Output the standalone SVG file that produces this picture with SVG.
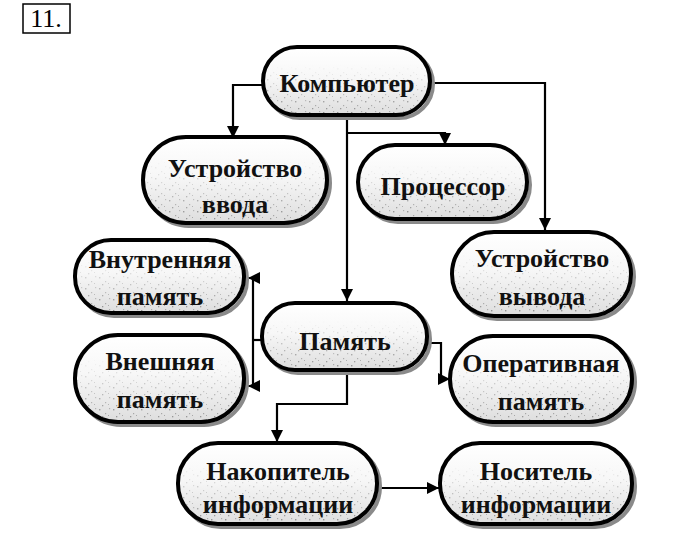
<svg xmlns="http://www.w3.org/2000/svg" width="700" height="542" viewBox="0 0 700 542">
<defs>
<linearGradient id="fillg" x1="0" y1="0" x2="0" y2="1">
<stop offset="0" stop-color="#ffffff"/>
<stop offset="0.45" stop-color="#f7f7f7"/>
<stop offset="1" stop-color="#dedede"/>
</linearGradient>
<pattern id="speck" width="14" height="11" patternUnits="userSpaceOnUse">
<rect x="1" y="2" width="1.4" height="1.4" fill="#8f8f8f"/>
<rect x="7" y="6" width="1.2" height="1.2" fill="#a0a0a0"/>
<rect x="11" y="1" width="1.2" height="1.2" fill="#a8a8a8"/>
<rect x="4" y="9" width="1.3" height="1.3" fill="#929292"/>
<rect x="10" y="8" width="1" height="1" fill="#a4a4a4"/>
</pattern>
<linearGradient id="mg" x1="0" y1="0" x2="0" y2="1">
<stop offset="0.25" stop-color="#000"/>
<stop offset="1" stop-color="#fff"/>
</linearGradient>
<mask id="m" maskContentUnits="objectBoundingBox">
<rect x="0" y="0" width="1" height="1" fill="url(#mg)"/>
</mask>
<marker id="arr" viewBox="0 0 10 10" refX="10" refY="5" markerWidth="5.5" markerHeight="5.5" orient="auto" markerUnits="strokeWidth">
<path d="M0,0 L10,5 L0,10 z" fill="#000"/>
</marker>
</defs>
<style>
.shadow{fill:none;stroke:#8a8a8a;stroke-width:4}
.box{fill:url(#fillg);stroke:#000;stroke-width:4}
.sp{fill:url(#speck);stroke:none;mask:url(#m)}
.t{font-family:'Liberation Serif','Times New Roman',serif;font-weight:bold;font-size:26px;fill:#111;text-anchor:middle}
.c{fill:none;stroke:#000;stroke-width:2.2;marker-end:url(#arr)}
.cn{fill:none;stroke:#000;stroke-width:2.2}
</style>
<rect width="700" height="542" fill="#fff"/>
<g id="label">
<rect x="23" y="4" width="47" height="29" fill="none" stroke="#000" stroke-width="1.5"/>
<text x="46" y="27" font-family="Liberation Serif, serif" font-size="26" text-anchor="middle" fill="#000">11.</text>
</g>
<g id="connectors">
<path class="c" d="M263,85 H233 V138"/>
<path class="c" d="M432,83 H545 V230"/>
<path class="c" d="M347,118 V301"/>
<path class="c" d="M347,133 H445 V145"/>
<path class="cn" d="M262,340 H253"/>
<path class="c" d="M253,340 V278 H248"/>
<path class="c" d="M253,340 V386 H248"/>
<path class="c" d="M430,343 H441 V379 H450"/>
<path class="c" d="M347,372 V404 H277 V442"/>
<path class="c" d="M380,488 H439"/>
</g>
<g id="n-computer">
<rect class="shadow" x="266" y="50" width="167" height="68" rx="34"/>
<rect class="box" x="263" y="47" width="167" height="68" rx="34"/>
<rect class="sp" x="265" y="49" width="163" height="64" rx="32"/>
<text class="t" x="347" y="92">Компьютер</text>
</g>
<g id="n-input">
<rect class="shadow" x="146" y="140" width="184" height="86" rx="43"/>
<rect class="box" x="143" y="137" width="184" height="86" rx="43"/>
<rect class="sp" x="145" y="139" width="180" height="82" rx="41"/>
<text class="t" x="235" y="177">Устройство</text>
<text class="t" x="235" y="213">ввода</text>
</g>
<g id="n-cpu">
<rect class="shadow" x="361" y="148" width="169" height="74" rx="37"/>
<rect class="box" x="358" y="145" width="169" height="74" rx="37"/>
<rect class="sp" x="360" y="147" width="165" height="70" rx="35"/>
<text class="t" x="443" y="195">Процессор</text>
</g>
<g id="n-output">
<rect class="shadow" x="455" y="235" width="179" height="84" rx="42"/>
<rect class="box" x="452" y="232" width="179" height="84" rx="42"/>
<rect class="sp" x="454" y="234" width="175" height="80" rx="40"/>
<text class="t" x="542" y="267">Устройство</text>
<text class="t" x="542" y="305">вывода</text>
</g>
<g id="n-internal">
<rect class="shadow" x="78" y="243" width="169" height="73" rx="36"/>
<rect class="box" x="75" y="240" width="169" height="73" rx="36"/>
<rect class="sp" x="77" y="242" width="165" height="69" rx="34"/>
<text class="t" x="160" y="268">Внутренняя</text>
<text class="t" x="160" y="305">память</text>
</g>
<g id="n-memory">
<rect class="shadow" x="265" y="306" width="165" height="67" rx="33"/>
<rect class="box" x="262" y="303" width="165" height="67" rx="33"/>
<rect class="sp" x="264" y="305" width="161" height="63" rx="31"/>
<text class="t" x="345" y="350">Память</text>
</g>
<g id="n-external">
<rect class="shadow" x="78" y="338" width="169" height="87" rx="43"/>
<rect class="box" x="75" y="335" width="169" height="87" rx="43"/>
<rect class="sp" x="77" y="337" width="165" height="83" rx="41"/>
<text class="t" x="160" y="370">Внешняя</text>
<text class="t" x="160" y="408">память</text>
</g>
<g id="n-ram">
<rect class="shadow" x="453" y="339" width="182" height="86" rx="43"/>
<rect class="box" x="450" y="336" width="182" height="86" rx="43"/>
<rect class="sp" x="452" y="338" width="178" height="82" rx="41"/>
<text class="t" x="541" y="372">Оперативная</text>
<text class="t" x="541" y="410">память</text>
</g>
<g id="n-storage">
<rect class="shadow" x="181" y="446" width="199" height="81" rx="40"/>
<rect class="box" x="178" y="443" width="199" height="81" rx="40"/>
<rect class="sp" x="180" y="445" width="195" height="77" rx="38"/>
<text class="t" x="278" y="480">Накопитель</text>
<text class="t" x="278" y="513">информации</text>
</g>
<g id="n-medium">
<rect class="shadow" x="443" y="446" width="192" height="81" rx="40"/>
<rect class="box" x="440" y="443" width="192" height="81" rx="40"/>
<rect class="sp" x="442" y="445" width="188" height="77" rx="38"/>
<text class="t" x="536" y="480">Носитель</text>
<text class="t" x="536" y="513">информации</text>
</g>
</svg>
